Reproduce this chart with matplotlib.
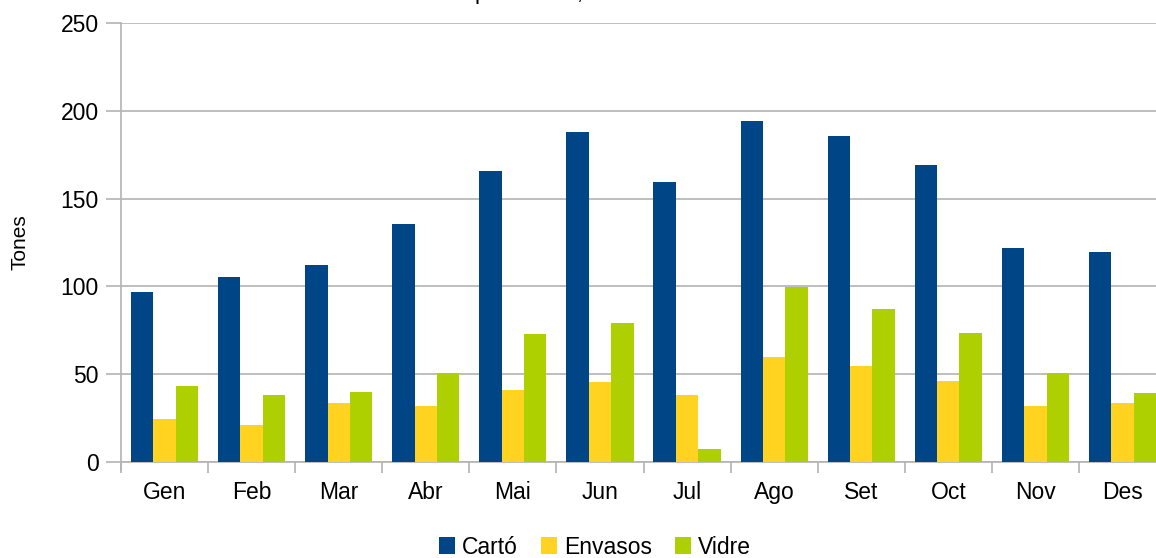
import numpy as np
import matplotlib
matplotlib.use("Agg")
from matplotlib import pyplot as plt
from matplotlib.patches import Patch

plt.rcParams["font.family"] = ["Liberation Sans", "DejaVu Sans"]

# Data
months = ["Gen", "Feb", "Mar", "Abr", "Mai", "Jun", "Jul", "Ago", "Set", "Oct", "Nov", "Des"]
carto = [97, 105.5, 112, 135.5, 165.7, 188, 159.5, 194.2, 185.6, 169.1, 122, 119.6]
envasos = [24.5, 21, 33.6, 32, 41, 45.6, 38.2, 59.8, 54.7, 46.1, 32, 33.6]
vidre = [43.3, 38.2, 40, 50.7, 73, 79.2, 7.4, 99.7, 87.1, 73.5, 50.7, 39.3]
series_names = ["Cartó", "Envasos", "Vidre"]
colors = ["#004586", "#ffd320", "#aecf00"]
title = "Paper i cartó, envasos i vidre"

W, H = 1156, 558
fig = plt.figure(figsize=(W / 100, H / 100), dpi=100)
# plot area runs past the right edge of the picture, like the original
ax = fig.add_axes([121 / W, (H - 462) / H, 1045 / W, 439 / H])

x = np.arange(len(months))
bw = 0.257
for i, (vals, c) in enumerate(zip([carto, envasos, vidre], colors)):
    ax.bar(x + (i - 1) * bw, vals, bw, color=c, zorder=3, linewidth=0)

ax.set_xlim(-0.5, len(months) - 0.5)
ax.set_ylim(0, 250)
ax.set_yticks(np.arange(0, 251, 50))
ax.yaxis.grid(True, color="#b3b3b3", linewidth=1.2, zorder=0)

ax.set_xticks(x)
ax.set_xticklabels(months)
ax.set_xticks(np.arange(-0.5, len(months)), minor=True)
ax.tick_params(axis="x", which="major", length=0, pad=14, labelsize=16.5)
ax.tick_params(axis="x", which="minor", length=8, width=1.2, color="#b3b3b3")
ax.tick_params(axis="y", length=11, width=1.2, color="#b3b3b3", pad=5, labelsize=16.5)

for s in ["top", "right"]:
    ax.spines[s].set_visible(False)
for s in ["left", "bottom"]:
    ax.spines[s].set_color("#b3b3b3")
    ax.spines[s].set_linewidth(1.2)
ax.spines["left"].set_bounds(-8 / 1.756, 250)

ax.set_ylabel("Tones", fontsize=15)
ax.yaxis.set_label_coords(-92 / 1045, 0.5)

fig.text(595 / W, 1 + 1 / H, title, ha="center", va="baseline", fontsize=16.5)

handles = [Patch(facecolor=c, edgecolor="none") for c in colors]
fig.legend(handles, series_names, loc="center", bbox_to_anchor=(595 / W, 1 - 547 / H),
           ncol=3, frameon=False, fontsize=16.5, handlelength=0.7, handleheight=0.7,
           handletextpad=0.3, columnspacing=1.0, borderaxespad=0)

fig.savefig("out.png", dpi=100)
